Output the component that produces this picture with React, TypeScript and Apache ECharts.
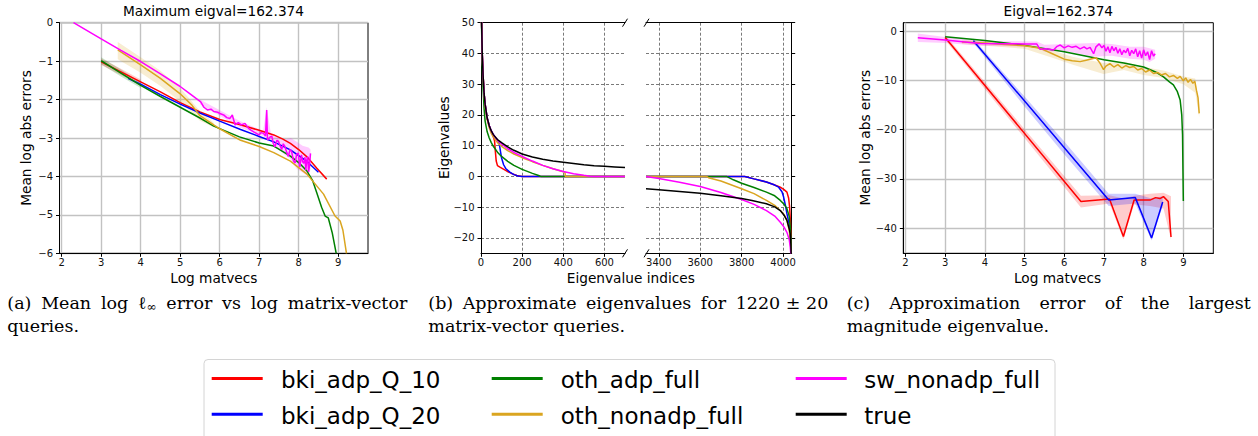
import React, { useEffect, useRef } from 'react';
import * as echarts from 'echarts';

// ---------- identities ----------
const seriesNames = ['bki_adp_Q_10', 'bki_adp_Q_20', 'oth_adp_full', 'oth_nonadp_full', 'sw_nonadp_full', 'true'];
const seriesColors = ['#ff0000', '#0000ff', '#008000', '#daa520', '#ff00ff', '#000000'];

// ---------- titles / labels ----------
const titleA = 'Maximum eigval=162.374';
const titleC = 'Eigval=162.374';
const xLabelA = 'Log matvecs';
const yLabelA = 'Mean log abs errors';
const xLabelB = 'Eigenvalue indices';
const yLabelB = 'Eigenvalues';
const xLabelC = 'Log matvecs';
const yLabelC = 'Mean log abs errors';

// ---------- ticks ----------
const aXTicks = [2, 3, 4, 5, 6, 7, 8, 9];
const aYTicks = [-6, -5, -4, -3, -2, -1, 0];
const bLeftXTicks = [0, 200, 400, 600];
const bRightXTicks = [3400, 3600, 3800, 4000];
const bYTicks = [-20, -10, 0, 10, 20, 30, 40, 50];
const cXTicks = [2, 3, 4, 5, 6, 7, 8, 9];
const cYTicks = [-40, -30, -20, -10, 0];

// ---------- axis ranges ----------
const aXRange = [1.945, 9.755];
const aYRange = [-6, 0];
const bLeftXRange = [0, 700];
const bRightXRange = [3338, 4042];
const bYRange = [-25, 50];
const cXRange = [1.945, 9.755];
const cYRange = [-45.1, 1.7];

// ---------- panel (a): mean log l_inf error ----------
const aRed = [[3.0, -1.02], [3.5, -1.28], [4, -1.54], [4.5, -1.8], [5, -2.08], [5.5, -2.32], [6, -2.52], [6.5, -2.65], [7, -2.8], [7.37, -2.92], [7.6, -3.03], [7.79, -3.14], [8.0, -3.3], [8.21, -3.49], [8.46, -3.79], [8.71, -4.07]];
const aBlue = [[3.68, -1.45], [4, -1.6], [4.5, -1.87], [5, -2.12], [5.5, -2.35], [6, -2.56], [6.53, -2.78], [7, -2.96], [7.37, -3.1], [7.79, -3.31], [8.21, -3.61], [8.5, -3.89]];
const aGreen = [[3, -0.99], [3.5, -1.31], [4, -1.63], [4.5, -1.92], [5, -2.2], [5.5, -2.48], [5.85, -2.69], [6.5, -2.97], [7, -3.13], [7.37, -3.21], [7.79, -3.47], [8.0, -3.64], [8.21, -3.86], [8.35, -4.1], [8.46, -4.43], [8.58, -4.8], [8.67, -5.03], [8.75, -5.08], [8.85, -5.47], [8.95, -6.0]];
const aOrange = [[3.42, -0.71], [4, -1.1], [4.5, -1.45], [5, -1.85], [5.3, -2.15], [5.5, -2.42], [5.85, -2.66], [6.0, -2.76], [6.53, -3.06], [7.0, -3.22], [7.37, -3.38], [7.79, -3.6], [8.21, -3.94], [8.63, -4.46], [8.92, -5.03], [9.05, -5.16], [9.12, -5.4], [9.21, -6.0]];
const aMagenta = [[2.3, 0], [3, -0.42], [3.5, -0.72], [4, -1.01], [4.5, -1.33], [5, -1.66], [5.25, -1.85], [5.52, -2.06], [5.6, -2.2], [5.69, -2.27], [5.78, -2.25], [5.85, -2.31], [5.95, -2.33], [6.02, -2.37], [6.1, -2.4], [6.18, -2.47], [6.26, -2.49], [6.32, -2.4], [6.39, -2.66], [6.47, -2.6], [6.55, -2.66], [6.64, -2.62], [6.73, -2.75], [6.8, -2.8], [6.86, -2.84], [6.93, -2.88], [6.99, -2.92], [7.05, -2.86], [7.11, -2.88], [7.16, -2.95], [7.19, -2.27], [7.21, -3.05], [7.27, -2.98], [7.32, -2.95], [7.36, -3.15], [7.4, -3.23], [7.45, -3.06], [7.49, -3.09], [7.53, -3.2], [7.57, -3.3], [7.61, -3.15], [7.65, -3.22], [7.7, -3.38], [7.74, -3.48], [7.78, -3.3], [7.82, -3.35], [7.87, -3.6], [7.91, -3.65], [7.95, -3.42], [7.99, -3.39], [8.03, -3.75], [8.07, -3.44], [8.1, -3.62], [8.13, -3.66], [8.16, -3.5], [8.18, -3.83], [8.21, -3.55], [8.23, -3.48], [8.25, -3.88], [8.27, -3.75], [8.3, -3.4]];
// bands: [x, low, high]
const aRedBand = [[3, -1.1, -0.93], [3.5, -1.36, -1.2], [4, -1.6, -1.48]];
const aGreenBand = [[3, -1.08, -0.9], [3.5, -1.4, -1.22], [4, -1.7, -1.56]];
const aOrangeBand = [[3.42, -0.95, -0.5], [4, -1.3, -0.9], [4.5, -1.65, -1.25], [5, -2.05, -1.7], [5.5, -2.55, -2.3], [5.85, -2.72, -2.6]];
const aMagentaBand = [[5.5, -2.12, -2.0], [6.5, -2.72, -2.55], [7.1, -2.95, -2.82], [7.19, -3.0, -2.2], [7.3, -3.1, -2.9], [7.6, -3.4, -3.05], [7.8, -3.55, -3.0], [7.95, -3.8, -3.1], [8.1, -3.9, -3.2], [8.25, -4.0, -3.25], [8.3, -3.8, -3.3]];

// ---------- panel (b): approximate eigenvalues (left: head, right: tail) ----------
const bRedL = [[0, 62], [3, 50], [6, 40], [10, 33], [15, 27], [20, 23.5], [30, 19], [40, 16.5], [50, 14.6], [60, 13], [66, 11.5], [70, 8], [74, 5], [80, 3.5], [92, 3.0], [126, 1.7], [150, 0.9], [174, 0.3], [200, 0], [700, 0]];
const bBlueL = [[0, 62], [3, 50], [6, 40], [10, 33], [15, 27], [20, 23.5], [30, 19], [40, 16.5], [50, 14.8], [60, 13.6], [70, 12.6], [80, 11.8], [88, 11.0], [95, 8], [100, 6], [110, 3.8], [120, 2.6], [140, 1.4], [160, 0.6], [180, 0.15], [200, 0], [700, 0]];
const bGreenL = [[0, 62], [3, 48], [6, 37], [10, 29], [15, 22], [20, 18], [30, 14.5], [40, 12.5], [50, 11], [60, 9.8], [80, 7.9], [100, 6.5], [130, 4.9], [160, 3.6], [200, 2.3], [250, 1.0], [280, 0.3], [290, 0], [700, 0]];
const bOrangeL = [[0, 62], [3, 50], [6, 40], [10, 33], [15, 27], [20, 23], [30, 18.5], [40, 15.8], [50, 14], [60, 12.8], [80, 11.0], [100, 9.8], [130, 8.4], [160, 7.3], [200, 6.1], [250, 4.8], [300, 3.6], [350, 2.5], [400, 1.5], [408, 1.4], [410, 0], [700, 0]];
const bMagentaL = [[0, 62], [3, 50], [6, 40], [10, 33], [15, 27], [20, 23.5], [30, 19], [40, 16.5], [50, 14.8], [60, 13.6], [80, 11.8], [100, 10.6], [130, 9.0], [160, 7.8], [200, 6.5], [250, 5.0], [300, 3.6], [350, 2.5], [400, 1.6], [450, 0.9], [500, 0.35], [530, 0.05], [550, 0], [700, 0]];
const bTrueL = [[0, 62], [3, 50], [6, 40], [10, 33], [15, 27], [20, 23.5], [30, 19], [40, 16.5], [50, 14.8], [60, 13.6], [80, 12.0], [100, 11.0], [130, 9.6], [160, 8.5], [200, 7.3], [250, 6.3], [300, 5.6], [350, 5.0], [400, 4.6], [450, 4.2], [500, 3.8], [550, 3.5], [600, 3.3], [650, 3.1], [700, 2.9]];

const bRedR = [[3338, 0], [3815, 0], [3860, -0.8], [3920, -1.8], [3960, -2.8], [3987, -3.5], [4005, -4.3], [4019, -5.1], [4027, -7], [4032, -10], [4036, -15], [4038, -18.7], [4040, -27]];
const bBlueR = [[3338, 0], [3815, 0], [3860, -0.8], [3920, -1.8], [3960, -2.8], [3979, -3.5], [3995, -5], [4003, -6.7], [4012, -9.5], [4019, -12.1], [4028, -15], [4035, -18.7], [4040, -27]];
const bGreenR = [[3338, 0], [3727, 0], [3760, -1.1], [3800, -2.2], [3860, -3.6], [3920, -5.1], [3960, -6.3], [3987, -7.8], [4005, -9.0], [4019, -10.5], [4030, -13], [4035, -16.5], [4038, -20], [4040, -27]];
const bOrangeR = [[3338, 0], [3630, 0], [3640, -0.4], [3700, -1.5], [3800, -4.0], [3860, -5.6], [3920, -7.8], [3960, -9.4], [3987, -11.1], [4005, -12.4], [4019, -14.3], [4030, -17.5], [4036, -21], [4040, -27]];
const bMagentaR = [[3338, 0], [3400, -0.7], [3500, -1.9], [3600, -3.3], [3700, -5.2], [3800, -7.5], [3860, -9.1], [3920, -11.1], [3960, -12.9], [3987, -14.9], [4005, -16.5], [4019, -18.2], [4030, -20.5], [4035, -23], [4038, -25.5]];
const bTrueR = [[3338, -4.0], [3400, -4.3], [3500, -4.9], [3600, -5.5], [3700, -6.3], [3800, -7.2], [3850, -7.8], [3920, -8.9], [3960, -9.9], [3987, -11.1], [4005, -12.6], [4019, -14.3], [4030, -17], [4035, -18.7], [4038, -22], [4040, -27]];

// ---------- panel (c): error of largest eigenvalue ----------
const cRed = [[3.0, -1.3], [6.42, -34.6], [7.14, -34.1], [7.49, -41.7], [7.76, -34.3], [8.16, -34.3], [8.3, -33.8], [8.41, -34.0], [8.5, -33.6], [8.62, -34.6], [8.69, -41.8]];
const cBlue = [[3.71, -1.96], [7.12, -34.3], [7.79, -33.8], [8.2, -42.0], [8.48, -34.7]];
const cGreen = [[3, -1.15], [4, -1.9], [5, -2.9], [6, -4.2], [7, -5.8], [7.5, -6.5], [8, -7.3], [8.3, -8.3], [8.5, -9.3], [8.65, -10.3], [8.75, -10.9], [8.85, -12.3], [8.92, -14], [8.96, -17], [8.98, -21], [8.99, -28], [9.0, -34.5]];
const cOrange = [[3.42, -2.2], [4, -2.4], [4.5, -2.7], [5, -3.0], [5.4, -3.5], [5.7, -4.6], [6.0, -5.7], [6.2, -6.0], [6.4, -6.2], [6.55, -5.9], [6.7, -5.6], [6.8, -5.4], [6.9, -6.5], [6.99, -7.8], [7.05, -7.1], [7.15, -6.6], [7.25, -7.3], [7.35, -6.8], [7.45, -7.5], [7.55, -7.0], [7.65, -7.4], [7.75, -7.2], [7.85, -7.9], [7.95, -7.6], [8.05, -8.3], [8.15, -7.9], [8.25, -8.6], [8.35, -8.4], [8.45, -8.9], [8.55, -8.6], [8.65, -9.3], [8.75, -9.0], [8.85, -9.6], [8.92, -9.2], [9.0, -10.1], [9.06, -9.5], [9.12, -10.4], [9.18, -9.8], [9.24, -10.6], [9.29, -10.2], [9.33, -12], [9.37, -13.5], [9.4, -16.7]];
const cMagenta = [[2.31, -1.35], [3, -1.8], [3.88, -2.5], [4.5, -2.55], [5.0, -2.6], [5.31, -2.64], [5.39, -3.7], [5.55, -3.6], [5.73, -3.85], [5.82, -3.1], [5.9, -2.84], [6.0, -3.4], [6.1, -3.0], [6.2, -3.3], [6.3, -3.1], [6.4, -3.6], [6.5, -3.2], [6.57, -3.6], [6.65, -3.3], [6.74, -4.6], [6.8, -3.2], [6.88, -2.6], [6.95, -3.4], [7.0, -2.9], [7.05, -4.1], [7.1, -3.2], [7.15, -4.4], [7.2, -3.1], [7.25, -4.0], [7.3, -3.3], [7.35, -4.5], [7.4, -3.6], [7.45, -4.8], [7.5, -3.9], [7.55, -4.4], [7.6, -3.5], [7.65, -5.0], [7.7, -3.9], [7.75, -4.6], [7.8, -3.6], [7.85, -5.2], [7.9, -4.0], [7.95, -5.5], [8.0, -3.8], [8.05, -5.0], [8.1, -4.2], [8.15, -5.8], [8.2, -4.0], [8.25, -5.1], [8.29, -4.6]];
const cRedBand = [[3.0, -1.8, -0.8], [5, -21.7, -19.9], [6.42, -35.8, -33.4], [7.14, -35, -33.3], [7.49, -42.3, -34], [7.76, -35.2, -33.4], [8.16, -35.5, -33], [8.5, -36, -32.8], [8.69, -42.3, -33.5]];
const cBlueBand = [[3.71, -2.4, -1.5], [5, -15.3, -13.3], [6, -25.0, -22.4], [7.12, -35.5, -33], [7.79, -35, -33], [8.2, -42.5, -34], [8.48, -35.5, -33.5]];
const cOrangeBand = [[3.42, -2.6, -1.8], [5, -3.6, -2.5], [5.7, -5.4, -3.9], [6.2, -6.8, -5.2], [6.99, -8.7, -6.5], [7.5, -7.9, -6.2], [8.0, -8.9, -7.3], [8.5, -9.5, -8.0], [9.0, -10.8, -9.2], [9.3, -12.5, -9.6], [9.4, -17.5, -16]];
const cMagentaBand = [[2.31, -2.2, -0.5], [3, -2.4, -1.2], [3.88, -3.0, -2.0], [5.31, -3.2, -2.1], [5.5, -4.2, -2.8], [6, -4.0, -2.6], [6.74, -5.2, -2.4], [7.2, -5.0, -2.6], [7.65, -5.6, -3.2], [8.0, -5.8, -3.2], [8.15, -6.3, -3.5], [8.29, -5.6, -3.8]];

// ---------- captions ----------
const captionA1 = ['(a)', 'Mean', 'log', 'ℓ|∞', 'error', 'vs', 'log', 'matrix-vector'];
const captionA2 = 'queries.';
const captionB1 = ['(b)', 'Approximate', 'eigenvalues', 'for', '1220 ± 20'];
const captionB2 = 'matrix-vector queries.';
const captionC1 = ['(c)', 'Approximation', 'error', 'of', 'the', 'largest'];
const captionC2 = 'magnitude eigenvalue.';

// ---------- layout constants ----------
const GRIDS = [
  { left: 59.5, top: 22.7, width: 308.5, height: 230.6 },
  { left: 481, top: 22.7, width: 144, height: 230.6 },
  { left: 646, top: 22.7, width: 145.7, height: 230.6 },
  { left: 903.3, top: 22.7, width: 310, height: 230.6 },
];
const SANS = 'DejaVu Sans';
const SERIF = 'DejaVu Serif';

const fmt = (v: number) => (v < 0 ? '\u2212' + Math.abs(v) : String(v));

function hexToRgba(hex: string, a: number) {
  const n = parseInt(hex.slice(1), 16);
  return `rgba(${(n >> 16) & 255},${(n >> 8) & 255},${n & 255},${a})`;
}

const solidGrid = { color: '#c2c2c2', width: 1.4, type: 'solid' };
const dashGrid = { color: '#7a7a7a', width: 1, type: [3, 2] };

function valAxis(gridIndex: number, range: number[], ticks: number[], o: any = {}) {
  return {
    type: 'value',
    gridIndex,
    min: range[0],
    max: range[1],
    position: o.position,
    axisLine: { show: o.line !== false, onZero: false, lineStyle: { color: '#000', width: 1 } },
    axisTick: { show: o.tick !== false, customValues: ticks, length: 3.5, inside: false, lineStyle: { color: '#000', width: 1 } },
    axisLabel: { show: o.label !== false, customValues: ticks, formatter: fmt, margin: o.margin ?? 6, fontFamily: SANS, fontSize: 10, color: '#111' },
    splitLine: o.split ? { show: true, lineStyle: o.split } : { show: false },
  };
}

function lineSeries(axis: number, data: number[][], ci: number) {
  return {
    type: 'line',
    name: seriesNames[ci],
    xAxisIndex: axis,
    yAxisIndex: axis,
    data,
    symbol: 'none',
    showSymbol: false,
    silent: true,
    clip: true,
    z: 3,
    lineStyle: { color: seriesColors[ci], width: 1.5 },
    itemStyle: { color: seriesColors[ci] },
  };
}

function bandSeries(axis: number, band: number[][], ci: number, alpha = 0.2) {
  return {
    type: 'custom',
    name: seriesNames[ci] + ' band',
    xAxisIndex: axis,
    yAxisIndex: axis,
    data: band,
    encode: { x: 0, y: [1, 2] },
    silent: true,
    clip: true,
    z: 2,
    renderItem: (params: any, api: any) => {
      if (params.dataIndex !== 0) return null;
      const up = band.map((p) => api.coord([p[0], p[2]]));
      const lo = band.map((p) => api.coord([p[0], p[1]])).reverse();
      return {
        type: 'polygon',
        shape: { points: up.concat(lo) },
        style: { fill: hexToRgba(seriesColors[ci], alpha) },
      };
    },
  };
}

function txt(x: number, y: number, text: string, size: number, opts: any = {}) {
  return {
    type: 'text',
    x,
    y,
    rotation: opts.rotation || 0,
    z: 10,
    silent: true,
    style: {
      text,
      fill: opts.color || '#000',
      fontFamily: opts.family || SANS,
      fontSize: size,
      align: opts.align || 'center',
      textAlign: opts.align || 'center',
      verticalAlign: 'middle',
      textVerticalAlign: 'middle',
    },
  };
}

function measureText(t: string, size: number, family: string) {
  const c = document.createElement('canvas').getContext('2d') as CanvasRenderingContext2D;
  c.font = `${size}px "${family}"`;
  return c.measureText(t).width;
}

// justified caption line; token "a|b" = a followed by subscript b
function justified(tokens: string[], x0: number, x1: number, y: number, size: number) {
  const subSize = size * 0.7;
  const parts = tokens.map((t) => {
    const [main, sub] = t.split('|');
    const wm = measureText(main, size, SERIF);
    const ws = sub ? measureText(sub, subSize, SERIF) : 0;
    return { main, sub, wm, w: wm + ws };
  });
  const total = parts.reduce((s, p) => s + p.w, 0);
  const gap = Math.max(3, (x1 - x0 - total) / (parts.length - 1));
  const els: any[] = [];
  let x = x0;
  parts.forEach((p) => {
    els.push(txt(x, y, p.main, size, { family: SERIF, align: 'left' }));
    if (p.sub) els.push(txt(x + p.wm, y + 4, p.sub, subSize, { family: SERIF, align: 'left' }));
    x += p.w + gap;
  });
  return els;
}

function breakMark(cx: number, cy: number) {
  return {
    type: 'line',
    z: 10,
    silent: true,
    shape: { x1: cx - 2.5, y1: cy + 4, x2: cx + 2.5, y2: cy - 4 },
    style: { stroke: '#000', lineWidth: 1 },
  };
}

export default function App() {
  const ref = useRef<HTMLDivElement>(null);

  useEffect(() => {
    if (!ref.current) return;
    const chart = echarts.init(ref.current, undefined, { renderer: 'svg' });

    const capSize = 17.5;
    const graphics: any[] = [
      // titles
      txt(213.5, 10.6, titleA, 13.7),
      txt(1058.3, 10.6, titleC, 13.7),
      // axis names
      txt(213.8, 278, xLabelA, 13.7),
      txt(25.5, 138, yLabelA, 13.7, { rotation: Math.PI / 2 }),
      txt(630.8, 277.5, xLabelB, 13.7),
      txt(443.8, 137.7, yLabelB, 13.7, { rotation: Math.PI / 2 }),
      txt(1057.5, 278, xLabelC, 13.7),
      txt(865.4, 137.7, yLabelC, 13.7, { rotation: Math.PI / 2 }),
      // broken-axis marks
      breakMark(625, 22.7),
      breakMark(625, 253.3),
      breakMark(646.5, 22.7),
      breakMark(646.5, 253.3),
      // captions
      ...justified(captionA1, 7.3, 407.3, 303.3, capSize),
      txt(7.3, 325.7, captionA2, capSize, { family: SERIF, align: 'left' }),
      ...justified(captionB1, 428.3, 828.3, 303.3, capSize),
      txt(428.3, 325.7, captionB2, capSize, { family: SERIF, align: 'left' }),
      ...justified(captionC1, 846.7, 1250.7, 303.3, capSize),
      txt(846.7, 325.7, captionC2, capSize, { family: SERIF, align: 'left' }),
      // legend box
      {
        type: 'rect',
        z: 9,
        silent: true,
        shape: { x: 204, y: 359.5, width: 851, height: 100, r: 4 },
        style: { fill: '#fff', stroke: '#d4d4d4', lineWidth: 1 },
      },
    ];
    const legCols = [211.7, 491.7, 795.7];
    const legTextX = [281, 560.7, 864.3];
    const legRows = [378.4, 414.3];
    seriesNames.forEach((name, i) => {
      const col = Math.floor(i / 2);
      const row = i % 2;
      graphics.push({
        type: 'line',
        z: 10,
        silent: true,
        shape: { x1: legCols[col], y1: legRows[row], x2: legCols[col] + 51, y2: legRows[row] },
        style: { stroke: seriesColors[i], lineWidth: 3 },
      });
      graphics.push(txt(legTextX[col], legRows[row] + 1.5, name, 23, { align: 'left' }));
    });

    const option: any = {
      animation: false,
      backgroundColor: '#fff',
      grid: [
        { ...GRIDS[0], show: true, borderColor: '#000', borderWidth: 1, containLabel: false },
        { ...GRIDS[1], containLabel: false },
        { ...GRIDS[2], containLabel: false },
        { ...GRIDS[3], show: true, borderColor: '#000', borderWidth: 1, containLabel: false },
      ],
      xAxis: [
        valAxis(0, aXRange, aXTicks, { split: solidGrid, margin: 4.5 }),
        valAxis(1, bLeftXRange, bLeftXTicks, { split: dashGrid, margin: 4.5 }),
        valAxis(2, bRightXRange, bRightXTicks, { split: dashGrid, margin: 4.5 }),
        valAxis(3, cXRange, cXTicks, { split: solidGrid, margin: 4.5 }),
        valAxis(1, bLeftXRange, bLeftXTicks, { position: 'top', tick: false, label: false }),
        valAxis(2, bRightXRange, bRightXTicks, { position: 'top', tick: false, label: false }),
      ],
      yAxis: [
        valAxis(0, aYRange, aYTicks, { split: solidGrid, margin: 6.5 }),
        valAxis(1, bYRange, bYTicks, { split: dashGrid, margin: 6.5 }),
        valAxis(2, bYRange, bYTicks, { split: dashGrid, position: 'right', label: false }),
        valAxis(3, cYRange, cYTicks, { split: solidGrid, margin: 6.5 }),
      ],
      graphic: graphics,
      series: [
        // panel (a)
        bandSeries(0, aRedBand, 0),
        bandSeries(0, aGreenBand, 2),
        bandSeries(0, aOrangeBand, 3),
        bandSeries(0, aMagentaBand, 4),
        lineSeries(0, aRed, 0),
        lineSeries(0, aBlue, 1),
        lineSeries(0, aGreen, 2),
        lineSeries(0, aOrange, 3),
        lineSeries(0, aMagenta, 4),
        // panel (b) left
        lineSeries(1, bRedL, 0),
        lineSeries(1, bBlueL, 1),
        lineSeries(1, bGreenL, 2),
        lineSeries(1, bOrangeL, 3),
        lineSeries(1, bMagentaL, 4),
        lineSeries(1, bTrueL, 5),
        // panel (b) right
        lineSeries(2, bRedR, 0),
        lineSeries(2, bBlueR, 1),
        lineSeries(2, bGreenR, 2),
        lineSeries(2, bOrangeR, 3),
        lineSeries(2, bMagentaR, 4),
        lineSeries(2, bTrueR, 5),
        // panel (c)
        bandSeries(3, cRedBand, 0),
        bandSeries(3, cBlueBand, 1),
        bandSeries(3, cOrangeBand, 3),
        bandSeries(3, cMagentaBand, 4),
        lineSeries(3, cRed, 0),
        lineSeries(3, cBlue, 1),
        lineSeries(3, cGreen, 2),
        lineSeries(3, cOrange, 3),
        lineSeries(3, cMagenta, 4),
      ],
    };

    chart.setOption(option);
    return () => chart.dispose();
  }, []);

  return (
    <div
      ref={ref}
      style={{ position: 'fixed', left: 0, top: 0, width: 1258, height: 436, background: '#fff' }}
    />
  );
}
